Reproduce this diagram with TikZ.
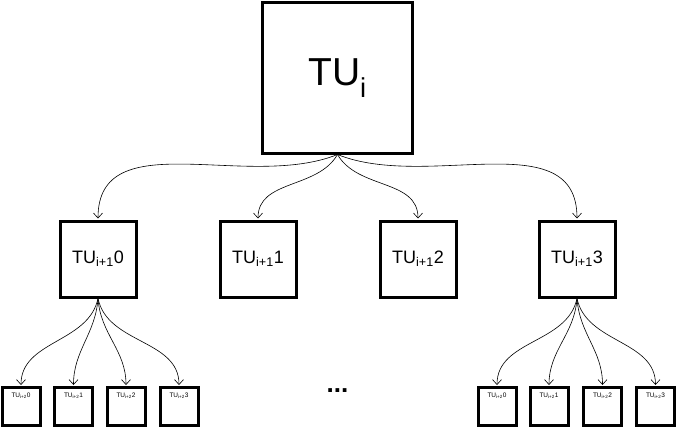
\documentclass[tikz,border=0pt]{standalone}
\usepackage{fontspec}
\setmainfont{Liberation Sans}
\usetikzlibrary{arrows.meta}
\begin{document}
\begin{tikzpicture}[x=1pt,y=1pt,
        tubox/.style={draw,line width=3pt,inner sep=0pt},
        link/.style={-{Straight Barb[length=5pt,width=9pt]},line width=0.6pt,shorten >=1pt}]
    \useasboundingbox (0,0) rectangle (676,-428);
    % root unit
    \node[tubox,minimum size=150pt,font=\fontsize{39}{39}\selectfont] (tu) at (337.5,-78) {TU\textsubscript{i}};
    % second level
    \foreach \n/\x/\o in {0/98/-158,1/258/-120,2/418/-60,3/577/-22}{
        \node[tubox,minimum size=76pt,font=\fontsize{18}{18}\selectfont] (tu\n) at (\x,-259) {TU\textsubscript{i+1}\n};
        \draw[link] (tu.south) to[out=\o,in=90] (tu\n.north);
    }
    % third level
    \foreach \n/\x/\o in {0/21/-102,1/73.5/-94,2/126/-86,3/179/-78}{
        \node[tubox,minimum size=38pt] (tu0\n) at (\x,-406.5) {};
        \node[font=\fontsize{6.5}{6.5}\selectfont] at ([yshift=-10pt]tu0\n.north) {TU\textsubscript{i+2}\n};
        \draw[link] (tu0.south) to[out=\o,in=90] (tu0\n.north);
    }
    \foreach \n/\x/\o in {0/497/-102,1/549/-94,2/602.5/-86,3/655.5/-78}{
        \node[tubox,minimum size=38pt] (tu3\n) at (\x,-406.5) {};
        \node[font=\fontsize{6.5}{6.5}\selectfont] at ([yshift=-10pt]tu3\n.north) {TU\textsubscript{i+2}\n};
        \draw[link] (tu3.south) to[out=\o,in=90] (tu3\n.north);
    }
    \node[font=\bfseries\fontsize{26}{26}\selectfont] (dots) at (337.5,-391) {...};
\end{tikzpicture}
\end{document}
